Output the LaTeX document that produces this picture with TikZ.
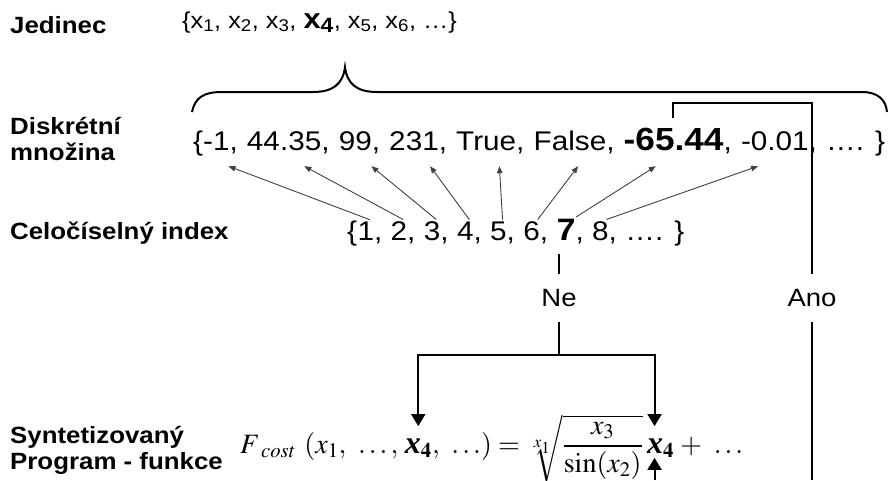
\documentclass[tikz,border=0pt]{standalone}
\usepackage{mathptmx}
\usepackage[no-math]{fontspec}
\setmainfont{Liberation Sans}[FakeStretch=1.1]
\newfontfamily\serifform{Liberation Serif}
\usetikzlibrary{positioning,arrows.meta}
\begin{document}
\begin{tikzpicture}[x=1pt, y=-1pt, every node/.style={inner sep=0pt},
  lbl/.style={font={\fontsize{23.5}{26}\selectfont\bfseries}, align=left},
  topset/.style={font={\fontsize{23}{26}\selectfont}},
  setitem/.style={font={\fontsize{27}{30}\selectfont}, text depth=7pt, inner ysep=9pt},
  idx/.style={font={\fontsize{27}{30}\selectfont}, text depth=0pt, inner ysep=1.5pt},
  yesno/.style={font={\fontsize{25}{28}\selectfont}, minimum height=47pt},
  form/.style={font={\fontsize{28}{32}\selectfont}},
  link/.style={draw, line width=2pt},
  bigarrow/.style={link, -{Triangle[length=12pt,width=14pt]}},
  idxarrow/.style={draw=black!75, line width=0.9pt, -{Triangle[length=7pt,width=5.5pt]}}]
  \useasboundingbox (0,0) rectangle (889,480);
  % row labels
  \node[lbl, anchor=base west] (jedinec) at (10,33) {Jedinec};
  \node[lbl, anchor=west] (diskr) at (10,139) {Diskrétní\\množina};
  \node[lbl, anchor=base west] (celo) at (10,239) {Celočíselný index};
  \node[lbl, anchor=west] (synt) at (10,450) {Syntetizovaný\\Program - funkce};
  % individual
  \node[topset, anchor=base west] (xset) at (182,28) {\{x\textsubscript{1}, x\textsubscript{2}, x\textsubscript{3}, {\fontsize{28}{30}\selectfont\bfseries x\textsubscript{4}}, x\textsubscript{5}, x\textsubscript{6}, …\}};
  \draw[line width=2pt] (192,112) .. controls (195,98) and (203,92) .. (222,92) -- (313,92)
    .. controls (333,92) and (343,84) .. (345,67) .. controls (347,84) and (357,92) .. (377,92)
    -- (862,92) .. controls (878,92) and (886,100) .. (887,112);
  % discrete set
  \node[setitem, anchor=base west] (s1) at (193,150) {\{-1,};
  \node[setitem, base right=8.8pt of s1] (s2) {44.35,};
  \node[setitem, base right=8.8pt of s2] (s3) {99,};
  \node[setitem, base right=8.8pt of s3] (s4) {231,};
  \node[setitem, base right=8.8pt of s4] (s5) {True,};
  \node[setitem, base right=8.8pt of s5] (s6) {False,};
  \node[setitem, base right=8.8pt of s6] (s7) {{\fontsize{32}{34}\selectfont\bfseries -65.44},};
  \node[setitem, base right=8.8pt of s7] (s8) {-0.01,};
  \node[setitem, base right=8.8pt of s8] (s9) {…. \}};
  % integer index
  \node[idx, anchor=base west] (i0) at (347,240) {\{};
  \node[idx, base right=0pt of i0] (i1) {1,};
  \node[idx, base right=8pt of i1] (i2) {2,};
  \node[idx, base right=8pt of i2] (i3) {3,};
  \node[idx, base right=8pt of i3] (i4) {4,};
  \node[idx, base right=8pt of i4] (i5) {5,};
  \node[idx, base right=8pt of i5] (i6) {6,};
  \node[idx, base right=8pt of i6] (i7) {{\fontsize{31}{33}\selectfont\bfseries 7},};
  \node[idx, base right=8pt of i7] (i8) {8,};
  \node[idx, base right=8pt of i8] (i9) {…. \}};
  \foreach \n/\a/\b in {1/0/13, 2/0/16, 3/0/12, 4/0/12, 5/0/9, 6/2/4, 7/6/-22, 8/2/-21}
    \draw[idxarrow] ([xshift=\a pt]i\n.north) -- ([xshift=\b pt]s\n.south);
  % decision
  \node[yesno] (ne) at (559,298) {Ne};
  \node[yesno] (ano) at (812,298) {Ano};
  \coordinate (split) at (559,355);
  \coordinate (lowedge) at (0,480);
  % synthesized program
  \node[form, anchor=base west] (f1) at (240,453) {$F{}_{\kern1.5pt cost}\ (x_1,\ \ldots,$};
  \node[form, base right=6pt of f1] (x4a) {$\mbox{\serifform\bfseries\itshape\fontsize{32}{34}\selectfont x}_{\mathbf{4}}$};
  \node[form, base right=0pt of x4a] (f2) {$,\ \ldots) = \sqrt[x_1]{\displaystyle\frac{x_3}{\sin(x_2)}}$};
  \node[form, base right=4pt of f2] (x4b) {$\mbox{\serifform\bfseries\itshape\fontsize{32}{34}\selectfont x}_{\mathbf{4}}$};
  \node[form, base right=6pt of x4b] (f3) {$+\ \ldots$};
  % connectors
  \draw[link, shorten <=12pt] (ne.north |- i7.south) -- (ne.north);
  \draw[link] (ne.south) -- (split);
  \draw[bigarrow, shorten >=12pt] (split) -| (x4a.north);
  \draw[bigarrow, shorten >=12pt] (split) -| ([xshift=-6pt]x4b.north);
  \draw[link] ([xshift=-5pt]s7.north) -- ++(0,-15) -| (ano.north);
  \draw[link] (ano.south) -- (ano.south |- lowedge);
  \draw[bigarrow] ([xshift=-6pt]x4b.south |- lowedge) -- ([xshift=-6pt]x4b.south);
\end{tikzpicture}
\end{document}
